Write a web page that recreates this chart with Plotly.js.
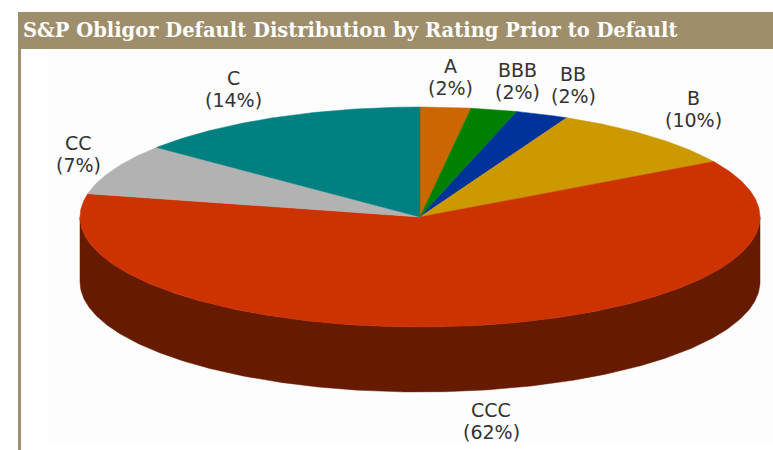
<!DOCTYPE html>
<html>
<head>
<meta charset="utf-8">
<script src="https://cdn.plot.ly/plotly-3.0.1.min.js"></script>
<style>html,body{margin:0;padding:0;background:#fff;overflow:hidden}#chart{width:773px;height:450px}</style>
</head>
<body>
<div id="chart"></div>
<script>
// Data
const categories = ['A', 'BBB', 'BB', 'B', 'CCC', 'CC', 'C'];
const sliceValues = [2.4, 2.2, 2.5, 9.5, 61.8, 7.5, 14.1];
const percentLabels = ['2%', '2%', '2%', '10%', '62%', '7%', '14%'];
const chartTitle = 'S&P Obligor Default Distribution by Rating Prior to Default';

// Styles
const topColors = ['#cc6600', '#008000', '#003399', '#cc9900', '#cc3300', '#b2b2b2', '#008080'];
const wallColors = ['#663300', '#004000', '#001a4d', '#664d00', '#661a00', '#595959', '#004040'];

// Layout of the drawn pie (pixel-unit axes)
const cx = 420, cy = 217, rx = 340, ry = 110, depth = 65;
const labelX = [450, 517, 573, 693, 491, 78, 233];
const labelY = [77, 81, 85, 109, 421, 154, 89];
const labelGap = 22;

const total = sliceValues.reduce((a, b) => a + b, 0);
const ellipseX = t => cx + rx * Math.sin(t);
const ellipseY = t => cy - ry * Math.cos(t);

const wallTraces = [], topTraces = [];
let acc = 0;
sliceValues.forEach((v, i) => {
  const a0 = acc / total * 2 * Math.PI;
  acc += v;
  const a1 = acc / total * 2 * Math.PI;
  const n = Math.max(4, Math.ceil((a1 - a0) / 0.01));
  const xs = [cx], ys = [cy];
  for (let k = 0; k <= n; k++) {
    const t = a0 + (a1 - a0) * k / n;
    xs.push(ellipseX(t));
    ys.push(ellipseY(t));
  }
  xs.push(cx); ys.push(cy);
  topTraces.push({
    type: 'scatter', mode: 'lines', x: xs, y: ys, fill: 'toself',
    fillcolor: topColors[i], line: {color: topColors[i], width: 0.5},
    name: categories[i], text: percentLabels[i], hoverinfo: 'name+text', showlegend: false
  });
  // Visible front wall: the part of the slice in the lower half of the ellipse
  const w0 = Math.max(a0, Math.PI / 2), w1 = Math.min(a1, 3 * Math.PI / 2);
  if (w1 > w0) {
    const m = Math.max(4, Math.ceil((w1 - w0) / 0.01));
    const wx = [], wy = [], bx = [], by = [];
    for (let k = 0; k <= m; k++) {
      const t = w0 + (w1 - w0) * k / m;
      wx.push(ellipseX(t)); wy.push(ellipseY(t));
      bx.unshift(ellipseX(t)); by.unshift(ellipseY(t) + depth);
    }
    wallTraces.push({
      type: 'scatter', mode: 'lines', x: wx.concat(bx, [wx[0]]), y: wy.concat(by, [wy[0]]),
      fill: 'toself', fillcolor: wallColors[i], line: {color: wallColors[i], width: 0.5},
      hoverinfo: 'skip', showlegend: false
    });
  }
});

const labelFont = {family: '"DejaVu Sans", sans-serif', size: 19, color: '#333333'};
const annotations = [];
categories.forEach((c, i) => {
  [c, '(' + percentLabels[i] + ')'].forEach((line, k) => {
    annotations.push({
      x: labelX[i], y: labelY[i] + (k - 0.5) * labelGap, xref: 'x', yref: 'y',
      xanchor: 'center', yanchor: 'middle', text: line, showarrow: false, font: labelFont
    });
  });
});
annotations.push({
  x: 21, y: 30, xref: 'x', yref: 'y', xanchor: 'left', yanchor: 'middle', showarrow: false,
  text: '<b>' + chartTitle + '</b>', font: {family: '"DejaVu Serif", serif', size: 19.5, color: '#ffffff'}
});

const layout = {
  width: 773, height: 450,
  margin: {l: 0, r: 0, t: 0, b: 0},
  paper_bgcolor: '#ffffff', plot_bgcolor: '#ffffff',
  xaxis: {range: [0, 773], visible: false, fixedrange: true},
  yaxis: {range: [450, 0], visible: false, fixedrange: true},
  showlegend: false,
  shapes: [
    {type: 'rect', layer: 'below', xref: 'x', yref: 'y', x0: 48, x1: 773, y0: 49, y1: 443, fillcolor: '#fdfdfd', line: {width: 0}},
    {type: 'rect', layer: 'below', xref: 'x', yref: 'y', x0: 18, x1: 773, y0: 12, y1: 49, fillcolor: '#9e8e6c', line: {width: 0}},
    {type: 'rect', layer: 'below', xref: 'x', yref: 'y', x0: 18, x1: 21, y0: 49, y1: 450, fillcolor: '#9e8e6c', line: {width: 0}}
  ],
  annotations: annotations
};

Plotly.newPlot('chart', wallTraces.concat(topTraces), layout, {displayModeBar: false});
</script>
</body>
</html>
